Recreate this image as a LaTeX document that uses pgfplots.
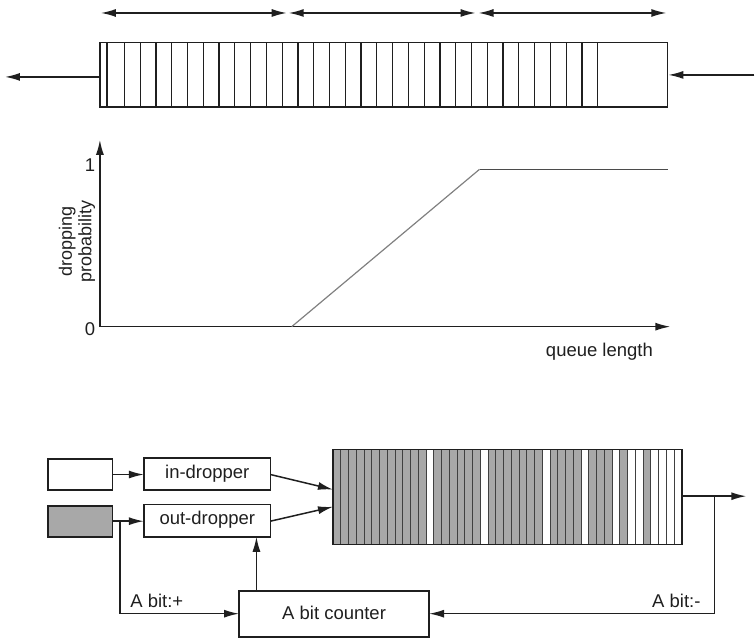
\documentclass[border=0pt]{standalone}
\usepackage{pgfplots}
\pgfplotsset{compat=1.18}
\usepackage{fontspec}
\setmainfont{Liberation Sans}
\usetikzlibrary{arrows.meta}

\definecolor{ink}{gray}{0.12}
\definecolor{shade}{gray}{0.66}

\tikzset{
    ln/.style={ink, line width=1.5pt},
    arr/.style={ln, -{Latex[length=15pt,width=8pt]}},
    dbl/.style={ln, {Latex[length=15pt,width=8pt]}-{Latex[length=15pt,width=8pt]}},
    lbl/.style={font=\fontsize{18.5}{20}\selectfont, text=ink},
}

\begin{document}
\begin{tikzpicture}
\begin{axis}[
    width=755pt, height=639pt, scale only axis,
    xmin=0, xmax=755, ymin=0, ymax=639,
    y dir=reverse, hide axis, clip=false,
    unbounded coords=jump,
]
\path (axis cs:0,0) rectangle (axis cs:755,639);

% ---- top: queue with thresholds
\addplot[dbl] coordinates {(101,13) (287,13)};
\addplot[dbl] coordinates {(289,13) (476,13)};
\addplot[dbl] coordinates {(479,13) (667,13)};

\addplot[ln, line width=1.2pt] coordinates {
  (107.2,42.5)(107.2,107)(107.2,nan)
  (124.5,42.5)(124.5,107)(124.5,nan)
  (140.3,42.5)(140.3,107)(140.3,nan)
  (156.1,42.5)(156.1,107)(156.1,nan)
  (171.9,42.5)(171.9,107)(171.9,nan)
  (187.7,42.5)(187.7,107)(187.7,nan)
  (203.5,42.5)(203.5,107)(203.5,nan)
  (219.3,42.5)(219.3,107)(219.3,nan)
  (235.1,42.5)(235.1,107)(235.1,nan)
  (250.8,42.5)(250.8,107)(250.8,nan)
  (266.6,42.5)(266.6,107)(266.6,nan)
  (282.4,42.5)(282.4,107)(282.4,nan)
  (298.2,42.5)(298.2,107)(298.2,nan)
  (314.0,42.5)(314.0,107)(314.0,nan)
  (329.8,42.5)(329.8,107)(329.8,nan)
  (345.6,42.5)(345.6,107)(345.6,nan)
  (361.4,42.5)(361.4,107)(361.4,nan)
  (377.2,42.5)(377.2,107)(377.2,nan)
  (393.0,42.5)(393.0,107)(393.0,nan)
  (408.8,42.5)(408.8,107)(408.8,nan)
  (424.6,42.5)(424.6,107)(424.6,nan)
  (440.4,42.5)(440.4,107)(440.4,nan)
  (456.2,42.5)(456.2,107)(456.2,nan)
  (472.0,42.5)(472.0,107)(472.0,nan)
  (487.7,42.5)(487.7,107)(487.7,nan)
  (503.5,42.5)(503.5,107)(503.5,nan)
  (519.3,42.5)(519.3,107)(519.3,nan)
  (535.1,42.5)(535.1,107)(535.1,nan)
  (550.9,42.5)(550.9,107)(550.9,nan)
  (566.7,42.5)(566.7,107)(566.7,nan)
  (582.5,42.5)(582.5,107)(582.5,nan)
  (598.3,42.5)(598.3,107)
};
\addplot[ln] coordinates {(100,42.5)(668,42.5)(668,107)(100,107)} --cycle;
\addplot[arr] coordinates {(100,77) (5,77)};
\addplot[arr] coordinates {(755,75) (669,75)};

% ---- middle: dropping probability vs queue length
\addplot[arr] coordinates {(100,327) (100,140)};
\addplot[arr] coordinates {(100,327) (671,327)};
\addplot[gray, line width=1.2pt] coordinates {(292,327) (480,169.5)};
\addplot[ink!80, line width=1.6pt] coordinates {(480,169.5) (669,169.5)};
\node[lbl] at (axis cs:90,165) {1};
\node[lbl] at (axis cs:90,329) {0};
\node[lbl, rotate=90, align=center, font=\fontsize{18}{19.5}\selectfont] at (axis cs:77,242) {dropping\\probability};
\node[lbl, anchor=west] at (axis cs:543,352) {queue length};

% ---- bottom: in/out droppers and shared queue
\addplot[ln, fill=white] coordinates {(48,459.3)(112.7,459.3)(112.7,490.7)(48,490.7)} --cycle;
\addplot[ln, fill=shade] coordinates {(48,506.7)(112.7,506.7)(112.7,537.3)(48,537.3)} --cycle;
\addplot[arr] coordinates {(112.7,475) (144,475)};
\addplot[arr] coordinates {(112.7,521.7) (144,521.7)};
\addplot[ln] coordinates {(144,458.3)(270.7,458.3)(270.7,490.7)(144,490.7)} --cycle;
\addplot[ln] coordinates {(144,505)(270.7,505)(270.7,537.3)(144,537.3)} --cycle;
\node[lbl] at (axis cs:207.5,474) {in-dropper};
\node[lbl] at (axis cs:207.5,520.5) {out-dropper};
\addplot[arr] coordinates {(270.7,475) (333.3,490)};
\addplot[arr] coordinates {(270.7,521.7) (333.3,507.3)};

% shared queue: shaded (out) and white (in) cells
\addplot[fill=shade, draw=none] coordinates {(333.3,450)(682.7,450)(682.7,545)(333.3,545)} --cycle;
\addplot[fill=white, draw=none] coordinates {(426.47,450)(434.24,450)(434.24,545)(426.47,545)} --cycle;
\addplot[fill=white, draw=none] coordinates {(480.82,450)(488.59,450)(488.59,545)(480.82,545)} --cycle;
\addplot[fill=white, draw=none] coordinates {(542.94,450)(550.70,450)(550.70,545)(542.94,545)} --cycle;
\addplot[fill=white, draw=none] coordinates {(581.76,450)(589.53,450)(589.53,545)(581.76,545)} --cycle;
\addplot[fill=white, draw=none] coordinates {(612.82,450)(620.58,450)(620.58,545)(612.82,545)} --cycle;
\addplot[fill=white, draw=none] coordinates {(628.35,450)(643.88,450)(643.88,545)(628.35,545)} --cycle;
\addplot[fill=white, draw=none] coordinates {(651.64,450)(682.70,450)(682.70,545)(651.64,545)} --cycle;
\addplot[ink!85, line width=1pt] coordinates {
  (341.06,450)(341.06,545)(341.06,nan)
  (348.83,450)(348.83,545)(348.83,nan)
  (356.59,450)(356.59,545)(356.59,nan)
  (364.36,450)(364.36,545)(364.36,nan)
  (372.12,450)(372.12,545)(372.12,nan)
  (379.89,450)(379.89,545)(379.89,nan)
  (387.65,450)(387.65,545)(387.65,nan)
  (395.42,450)(395.42,545)(395.42,nan)
  (403.18,450)(403.18,545)(403.18,nan)
  (410.94,450)(410.94,545)(410.94,nan)
  (418.71,450)(418.71,545)(418.71,nan)
  (426.47,450)(426.47,545)(426.47,nan)
  (434.24,450)(434.24,545)(434.24,nan)
  (442.00,450)(442.00,545)(442.00,nan)
  (449.77,450)(449.77,545)(449.77,nan)
  (457.53,450)(457.53,545)(457.53,nan)
  (465.29,450)(465.29,545)(465.29,nan)
  (473.06,450)(473.06,545)(473.06,nan)
  (480.82,450)(480.82,545)(480.82,nan)
  (488.59,450)(488.59,545)(488.59,nan)
  (496.35,450)(496.35,545)(496.35,nan)
  (504.12,450)(504.12,545)(504.12,nan)
  (511.88,450)(511.88,545)(511.88,nan)
  (519.65,450)(519.65,545)(519.65,nan)
  (527.41,450)(527.41,545)(527.41,nan)
  (535.17,450)(535.17,545)(535.17,nan)
  (542.94,450)(542.94,545)(542.94,nan)
  (550.70,450)(550.70,545)(550.70,nan)
  (558.47,450)(558.47,545)(558.47,nan)
  (566.23,450)(566.23,545)(566.23,nan)
  (574.00,450)(574.00,545)(574.00,nan)
  (581.76,450)(581.76,545)(581.76,nan)
  (589.53,450)(589.53,545)(589.53,nan)
  (597.29,450)(597.29,545)(597.29,nan)
  (605.05,450)(605.05,545)(605.05,nan)
  (612.82,450)(612.82,545)(612.82,nan)
  (620.58,450)(620.58,545)(620.58,nan)
  (628.35,450)(628.35,545)(628.35,nan)
  (636.11,450)(636.11,545)(636.11,nan)
  (643.88,450)(643.88,545)(643.88,nan)
  (651.64,450)(651.64,545)(651.64,nan)
  (659.41,450)(659.41,545)(659.41,nan)
  (667.17,450)(667.17,545)(667.17,nan)
  (674.94,450)(674.94,545)
};
\addplot[ln] coordinates {(333.3,450)(682.7,450)(682.7,545)(333.3,545)} --cycle;
\addplot[arr] coordinates {(682.7,496.7) (747,496.7)};

% A bit counter and feedback
\addplot[ln] coordinates {(239.3,591.7)(429.5,591.7)(429.5,637.5)(239.3,637.5)} --cycle;
\node[lbl] at (axis cs:334.4,614) {A bit counter};
\addplot[arr] coordinates {(256.7,591.7) (256.7,537.3)};
\addplot[arr] coordinates {(120,521.7) (120,614.3) (239.3,614.3)};
\addplot[arr] coordinates {(715,496.7) (715,614.3) (429.5,614.3)};
\node[lbl] at (axis cs:157,601) {A bit:+};
\node[lbl] at (axis cs:677,601) {A bit:-};
\end{axis}
\end{tikzpicture}
\end{document}
